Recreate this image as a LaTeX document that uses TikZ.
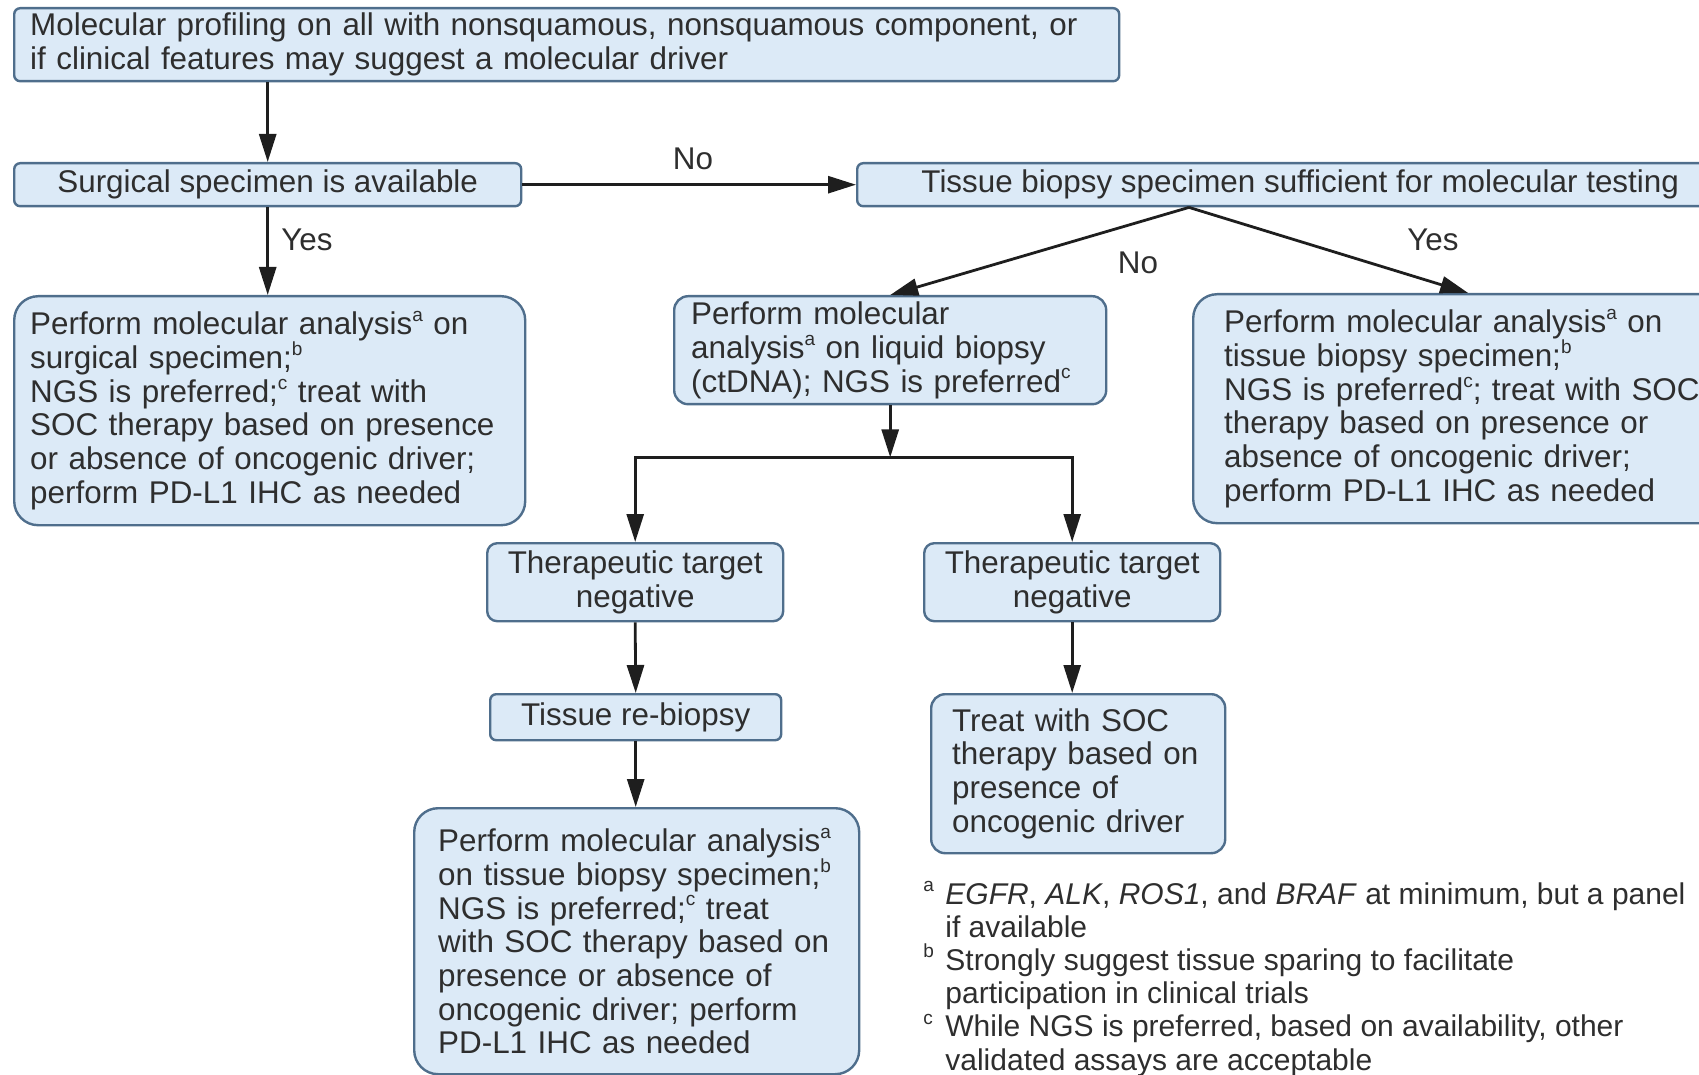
\documentclass[tikz,border=0pt]{standalone}
\usepackage{fontspec}
\setmainfont{Liberation Sans}
\usetikzlibrary{arrows.meta,calc}
\definecolor{boxfill}{HTML}{DCEAF7}
\definecolor{boxline}{HTML}{4F6E8C}
\definecolor{ink}{HTML}{2E2E2E}
\definecolor{arrowc}{HTML}{1E1E1E}
% superscript footnote marks
\newcommand\supmark[1]{\raisebox{0.42em}{\fontsize{9.5}{10}\selectfont #1}}
\newcommand\boxfont{\fontsize{15.7}{16.85}\selectfont}
\newcommand\notefont{\fontsize{15}{16.6}\selectfont}

\begin{document}
\begin{tikzpicture}[x=0.5pt,y=-0.5pt,
  every node/.style={text=ink, font=\boxfont},
  box/.style={draw=boxline, fill=boxfill, line width=1.2pt, rounded corners=3pt,
    inner ysep=0pt, anchor=north west},
  medbox/.style={box, rounded corners=7pt},
  bigbox/.style={box, rounded corners=12pt},
  conn/.style={draw=arrowc, line width=1.4pt, -{Triangle[length=14pt,width=8.5pt]}},
  lbl/.style={font=\boxfont}
]
\useasboundingbox (0,0) rectangle (1699,1075);
\clip (0,0) rectangle (1699,1075);

% top row
\node[box, minimum width=552.5pt, minimum height=36.5pt, text width=536.5pt,
  inner xsep=8pt, align=left] (top) at (13,7)
  {Molecular profiling on all with nonsquamous, nonsquamous component, or\\
   if clinical features may suggest a molecular driver};

\node[box, minimum width=253.5pt, minimum height=21.5pt] (surg) at (13,162)
  {Surgical specimen is available};
\node[box, minimum width=443pt, minimum height=21.5pt] (tis) at (856,162)
  {Tissue biopsy specimen sufficient for molecular testing};

% second row
\node[bigbox, minimum width=255.5pt, minimum height=114.5pt, text width=239.5pt,
  inner xsep=8pt, align=left] (surgres) at (13,295)
  {Perform molecular analysis\supmark{a} on\\
   surgical specimen;\supmark{b}\\
   NGS is preferred;\supmark{c} treat with\\
   SOC therapy based on presence\\
   or absence of oncogenic driver;\\
   perform PD-L1 IHC as needed};

\node[medbox, minimum width=216pt, minimum height=54pt, text width=199pt,
  inner xsep=8.5pt, align=left] (liq) at (673,295)
  {Perform molecular\\
   analysis\supmark{a} on liquid biopsy\\
   (ctDNA); NGS is preferred\supmark{c}};

\node[bigbox, minimum width=275pt, minimum height=114.5pt, text width=244pt,
  inner xsep=15.5pt, align=left] (tisres) at (1192,293)
  {Perform molecular analysis\supmark{a} on\\
   tissue biopsy specimen;\supmark{b}\\
   NGS is preferred\supmark{c}; treat with SOC\\
   therapy based on presence or\\
   absence of oncogenic driver;\\
   perform PD-L1 IHC as needed};

% liquid biopsy branch
\node[medbox, rounded corners=5pt, minimum width=148pt, minimum height=39pt,
  align=center] (negl) at (486,542) {Therapeutic target\\negative};
\node[medbox, rounded corners=5pt, minimum width=148pt, minimum height=39pt,
  align=center] (negr) at (923,542) {Therapeutic target\\negative};

\node[box, minimum width=145.5pt, minimum height=23pt] (reb) at (489,693)
  {Tissue re-biopsy};

\node[medbox, minimum width=147pt, minimum height=79.5pt, text width=126pt,
  inner xsep=10.5pt, align=left] (treat) at (930,693)
  {Treat with SOC\\
   therapy based on\\
   presence of\\
   oncogenic driver};

\node[bigbox, minimum width=222.5pt, minimum height=133pt, text width=198.5pt,
  inner xsep=12pt, align=left] (rebres) at (413,807)
  {Perform molecular analysis\supmark{a}\\
   on tissue biopsy specimen;\supmark{b}\\
   NGS is preferred;\supmark{c} treat\\
   with SOC therapy based on\\
   presence or absence of\\
   oncogenic driver; perform\\
   PD-L1 IHC as needed};

% footnotes (base anchor sits on the last line)
\node[font=\notefont, align=left, anchor=base west, inner sep=0pt] (notes) at (923,1070)
  {\makebox[11pt][l]{\supmark{a}}\textit{EGFR}, \textit{ALK}, \textit{ROS1}, and \textit{BRAF} at minimum, but a panel\\
   \hspace*{11pt}if available\\
   \makebox[11pt][l]{\supmark{b}}Strongly suggest tissue sparing to facilitate\\
   \hspace*{11pt}participation in clinical trials\\
   \makebox[11pt][l]{\supmark{c}}While NGS is preferred, based on availability, other\\
   \hspace*{11pt}validated assays are acceptable};

% connectors
\coordinate (sp) at ([xshift=166.5pt]tis.south west);
\coordinate (jn) at ([yshift=-26pt]liq.south);

\draw[conn] (surg.north |- top.south) -- (surg.north);
\draw[conn] (surg.east) -- (tis.west);
\draw[conn] (surg.south) -- (surg.south |- surgres.north);
\draw[conn] (sp) -- (liq.north);
\draw[conn] (sp) -- (tisres.north);
\draw[conn] (liq.south) -- (jn);
\draw[conn] (jn) -| (negl.north);
\draw[conn] (jn) -| (negr.north);
\draw[conn] (negl.south) -- (reb.north);
\draw[conn] (reb.south) -- (reb.south |- rebres.north);
\draw[conn] (negr.south) -- (negr.south |- treat.north);

% branch labels
\node[lbl] (lno1) at (693,159) {No};
\node[lbl] (lyes1) at (307,240) {Yes};
\node[lbl] (lno2) at (1138,263) {No};
\node[lbl] (lyes2) at (1433,240) {Yes};
\end{tikzpicture}
\end{document}
